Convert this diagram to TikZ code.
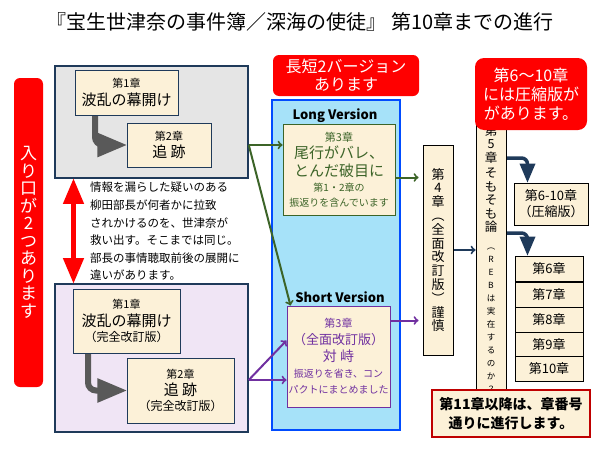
\documentclass[tikz,border=0pt]{standalone}
\usepackage{fontspec}
\setmainfont{Noto Sans CJK JP}
\usetikzlibrary{shapes,arrows}
\definecolor{cream}{HTML}{FCF1D8}
\definecolor{navy}{HTML}{1F3A5A}
\definecolor{dgreen}{HTML}{3C6428}
\definecolor{vio}{HTML}{7030A0}
\tikzstyle{line} = [draw, ->, line width=2pt]
\tikzstyle{chap} = [rectangle, draw=navy, line width=1pt, fill=cream, align=center, inner sep=0pt]
\tikzstyle{panel} = [rectangle, draw=navy, line width=1.5pt, inner sep=0pt]
\tikzstyle{redlabel} = [rectangle, rounded corners=6pt, fill=red, text=white, align=center, inner sep=0pt]
\tikzstyle{grayturn} = [draw=black!65, line width=6pt, rounded corners=8pt, -triangle 45]
\tikzstyle{navyturn} = [draw=navy, line width=3.5pt, rounded corners=6pt, -triangle 45]
\newcommand{\sz}[1]{\fontsize{#1}{#1}\selectfont}
\begin{document}
\begin{tikzpicture}[x=1pt, y=-1pt]
	\useasboundingbox (0,0) rectangle (600,450);
	\node (title) at (300,22) {\sz{20}『宝生世津奈の事件簿／深海の使徒』 第10章までの進行};
	\node [redlabel, minimum width=29, minimum height=309, font=\fontsize{17}{17.5}\selectfont] (entry) at (28.5,232.5) {入\\り\\口\\が\\2\\つ\\あ\\り\\ま\\す};
	% first entrance
	\node [panel, fill=black!10, minimum width=193, minimum height=112] (top) at (151.5,122) {};
	\node [chap, minimum width=103, minimum height=45] (c1) at (126.5,92.5) {\sz{11}第1章\\[3pt]\sz{15}波乱の幕開け};
	\node [chap, minimum width=84, minimum height=44] (c2) at (169,145) {\sz{11}第2章\\[3pt]\sz{15}追\ 跡};
	\coordinate (b1) at (95,116);
	\path [grayturn] (b1) |- (c2.west);
	% second entrance
	\node [panel, fill=blue!18!violet!10, minimum width=193, minimum height=148] (bot) at (151.5,358) {};
	\node [chap, minimum width=107, minimum height=64] (c1b) at (126.5,321) {\sz{11}第1章\\[3pt]\sz{15}波乱の幕開け\\[3pt]\sz{12}（完全改訂版）};
	\node [chap, minimum width=107, minimum height=65] (c2b) at (180.5,390.5) {\sz{11}第2章\\[3pt]\sz{15}追\ 跡\\[3pt]\sz{12}（完全改訂版）};
	\coordinate (b2) at (88,354);
	\path [grayturn] (b2) |- (c2b.west);
	\draw [red, line width=5pt, triangle 45-triangle 45] ([xshift=-78pt]top.south) -- ([xshift=-78pt]bot.north);
	\node [align=left, anchor=north west, inner sep=0pt, font=\fontsize{11.5}{17.6}\selectfont] (story) at (90,182) {情報を漏らした疑いのある\\柳田部長が何者かに拉致\\されかけるのを、世津奈が\\救い出す。そこまでは同じ。\\部長の事情聴取前後の展開に\\違いがあります。};
	% chapter 3
	\node [redlabel, minimum width=146, minimum height=41, font=\fontsize{16}{18}\selectfont] (lab2) at (346,75.5) {長短2バージョン\\あります};
	\node [rectangle, draw=blue!70!cyan, line width=1.5pt, fill=cyan!35, minimum width=128, minimum height=330] (water) at (336,265) {};
	\node [font=\bfseries\sz{13}] (longt) at (335,116) {Long Version};
	\node [chap, draw=dgreen, text=dgreen, minimum width=112, minimum height=91] (long) at (339,169.5) {\sz{11}第3章\\[3pt]\sz{15}尾行がバレ、\\[3pt]\sz{15}とんだ破目に\\[3pt]\sz{10}第1・2章の\\[3pt]\sz{10}振返りを含んでいます};
	\node [font=\bfseries\sz{13}] (shortt) at (340,297) {Short Version};
	\node [chap, draw=vio, text=vio, minimum width=103, minimum height=101] (short) at (338.5,356.5) {\sz{11}第3章\\[4pt]\sz{13}（全面改訂版）\\[3pt]\sz{14}対\ 峙\\[4pt]\sz{10}振返りを省き、コン\\[4pt]\sz{10}パクトにまとめました};
	\path [line, dgreen] ([yshift=-23pt]top.east) -- ([yshift=-23pt]top.east -| long.west);
	\path [line, dgreen] ([yshift=-23pt]top.east) -- ([xshift=4pt]short.north west);
	\path [line, vio] ([yshift=-22pt]bot.east) -- ([yshift=16pt]short.west);
	\path [line, vio] ([yshift=-22pt]bot.east) -- ([yshift=-22pt]bot.east -| short.west);
	% chapters 4 and 5
	\node [chap, draw=black, minimum width=30, minimum height=210, font=\fontsize{13}{13.8}\selectfont] (ch4) at (438,250) {第\\4\\章\\︵\\全\\面\\改\\訂\\版\\︶\\謹\\慎};
	\node [chap, draw=black, minimum width=30, minimum height=240, font=\fontsize{12.5}{13.5}\selectfont] (ch5) at (491,265) {第\\5\\章\\[2pt]そ\\も\\そ\\も\\論\\[4pt]\sz{8.5}︵\\[-0.5pt]\sz{8.5}R\\[-0.5pt]\sz{8.5}E\\[-0.5pt]\sz{8.5}B\\[-0.5pt]\sz{8.5}は\\[-0.5pt]\sz{8.5}実\\[-0.5pt]\sz{8.5}在\\[-0.5pt]\sz{8.5}す\\[-0.5pt]\sz{8.5}る\\[-0.5pt]\sz{8.5}の\\[-0.5pt]\sz{8.5}か\\[-0.5pt]\sz{8.5}？\\[-0.5pt]\sz{8.5}︶};
	\path [line, dgreen, shorten >=4pt] ([yshift=-8pt]long.east) -- ([yshift=-8pt]long.east -| ch4.west);
	\path [line, vio, shorten >=4pt] ([yshift=36pt]short.east) -- ([yshift=36pt]short.east -| ch4.west);
	\path [line, navy] (ch4.east) -- (ch4.east -| ch5.west);
	% chapters 6 to 10
	\node [redlabel, rounded corners=9pt, minimum width=112, minimum height=72, font=\fontsize{16}{19}\selectfont] (lab610) at (531,94) {第6〜10章\\には圧縮版が\\があります。};
	\node [chap, draw=black, minimum width=74, minimum height=42] (ch610) at (551,204) {\sz{13}第6-10章\\[3pt]\sz{13}（圧縮版）};
	\foreach \n/\y in {6/268.5,7/294.5,8/319.5,9/344.5,10/368.5}
		\node [chap, draw=black, minimum width=68, minimum height=25] (ch\n) at (549,\y) {\sz{13}第\n 章};
	\coordinate (n1) at (507,158);
	\coordinate (n2) at (507,233);
	\path [navyturn] (n1) -| ([xshift=14pt]ch610.north west);
	\path [navyturn] (n2) -| ([xshift=13pt]ch6.north west);
	\node [chap, draw=red!75!black, line width=1.2pt, minimum width=158, minimum height=47, font=\bfseries\fontsize{14}{19}\selectfont] (note) at (511,413.5) {第11章以降は、章番号\\通りに進行します。};
\end{tikzpicture}
\end{document}
